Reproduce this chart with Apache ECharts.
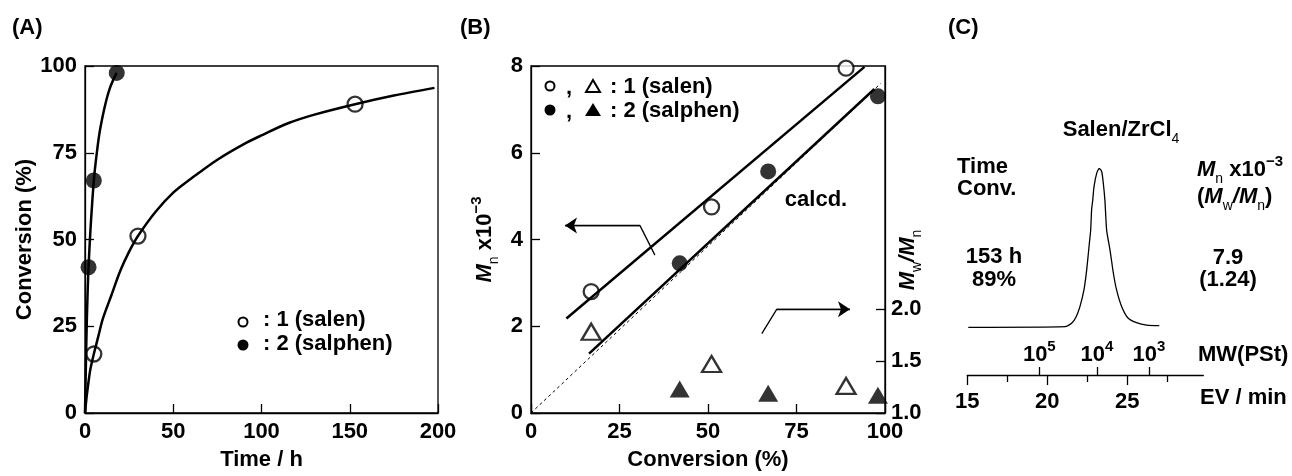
<!DOCTYPE html>
<html>
<head>
<meta charset="utf-8">
<script src="https://cdn.jsdelivr.net/npm/echarts@6/dist/echarts.min.js"></script>
<style>
  html, body { margin: 0; padding: 0; background: #fff; }
  #chart { width: 1292px; height: 476px; }
</style>
</head>
<body>
<div id="chart"></div>
<script>
// (A) conversion vs time
const timeSalen = [5, 30, 153];
const convSalen = [17, 51, 89];
const timeSalphen = [2, 5, 18];
const convSalphen = [42, 67, 98];
// fitted curves
const fitSalenT = [0, 1, 2, 3, 5, 7.5, 10, 15, 20, 25, 30, 40, 50, 60, 75, 90, 100, 115, 130, 153, 175, 198];
const fitSalenC = [0, 5, 9, 12.5, 17, 22, 27, 34, 41, 46.5, 51, 58, 63.5, 67.5, 73, 77.5, 80, 83.5, 86, 89, 91.5, 93.7];
const fitSalphenT = [0, 0.5, 1, 1.5, 2, 3, 4, 5, 6, 8, 10, 12, 14, 16, 18];
const fitSalphenC = [0, 14, 26, 35, 42, 52, 60, 67, 72, 80, 85.5, 90, 93.5, 96, 98];

// (B) Mn and Mw/Mn vs conversion
const convB1 = [17, 51, 89];
const mnB1 = [2.8, 4.75, 7.95];
const pdiB1 = [1.78, 1.47, 1.26];
const convB2 = [42, 67, 98];
const mnB2 = [3.45, 5.57, 7.3];
const pdiB2 = [1.23, 1.19, 1.17];
const lineB1X = [10, 94.2], lineB1Y = [2.18, 7.98];
const lineB2X = [16.4, 97], lineB2Y = [1.37, 7.47];
const calcdX = [0, 98.8], calcdY = [0, 7.6];
const arrowMnPath = [[35, 3.64], [30.8, 4.32], [9.6, 4.32]];
const arrowPdiPath = [[65.2, 1.83], [69.4, 2.39], [90.1, 2.39]];

// (C) GPC trace
const evTrace = [15.06, 21.11, 21.52, 21.79, 22.04, 22.29, 22.46, 22.63, 22.71, 22.77, 22.84, 22.92, 23.09, 23.25,
  23.4, 23.5, 23.6, 23.71, 23.92, 24.13, 24.33, 24.65, 25.06, 25.58, 26.21, 27.0];
const intTrace = [0, 0.004, 0.025, 0.063, 0.13, 0.235, 0.36, 0.53, 0.61, 0.74, 0.80, 0.885, 0.97, 1.0,
  0.98, 0.906, 0.80, 0.61, 0.486, 0.34, 0.235, 0.13, 0.057, 0.029, 0.014, 0.01];
const evMajor = [15, 20, 25];
const evMinor = [17.5, 22.5, 27.5];
const mwTickEV = [19.5, 23.1, 26.35];
const mwTickExp = ['5', '4', '3'];

const ff = "'Liberation Sans', Arial, sans-serif";
const zip = (a, b) => a.map((v, i) => [v, b[i]]);

const richSet = {
  b: { fontSize: 22, fontWeight: 'bold', fontFamily: ff, lineHeight: 32, color: '#000', fill: '#000' },
  i: { fontSize: 22, fontWeight: 'bold', fontStyle: 'italic', fontFamily: ff, lineHeight: 32, color: '#000', fill: '#000' },
  sub: { fontSize: 14, fontFamily: ff, lineHeight: 20, verticalAlign: 'bottom', color: '#000', fill: '#000' },
  sup: { fontSize: 15, fontWeight: 'bold', fontFamily: ff, lineHeight: 14, verticalAlign: 'top', color: '#000', fill: '#000' }
};

const line = { color: '#000', width: 1.3 };
const lbl = { color: '#000', fontSize: 22, fontWeight: 'bold', fontFamily: ff, margin: 8 };
const nameStyle = { color: '#000', fontSize: 22, fontWeight: 'bold', fontFamily: ff };

function frameAxis(extra) {
  return Object.assign({
    type: 'value',
    axisLine: { show: true, onZero: false, lineStyle: line },
    axisTick: { show: true, inside: true, length: 9, lineStyle: line },
    axisLabel: lbl,
    splitLine: { show: false },
    nameLocation: 'middle',
    nameTextStyle: nameStyle
  }, extra);
}

function txt(x, y, text, align, extra) {
  return {
    type: 'text', x: x, y: y, silent: true,
    style: Object.assign({
      text: text, fill: '#000', fontSize: 22, fontWeight: 'bold', fontFamily: ff,
      align: align || 'left', textAlign: align || 'left', verticalAlign: 'middle', textVerticalAlign: 'middle',
      rich: richSet
    }, extra || {})
  };
}

const openDot = { color: '#fff', borderColor: '#000', borderWidth: 2.3 };
const fullDot = { color: '#000' };

const chart = echarts.init(document.getElementById('chart'));
chart.setOption({
  animation: false,
  backgroundColor: '#fff',
  grid: [
    { left: 85, top: 66, width: 353, height: 353, show: true, borderColor: '#000', borderWidth: 1.3 },
    { left: 531, top: 66, width: 354, height: 353, show: true, borderColor: '#000', borderWidth: 1.3 },
    { left: 967.3, top: 168.3, width: 236, height: 206.7, show: false }
  ],
  xAxis: [
    frameAxis({ gridIndex: 0, min: 0, max: 200, interval: 50, name: 'Time / h', nameGap: 36 }),
    frameAxis({ gridIndex: 1, min: 0, max: 100, interval: 25, name: 'Conversion (%)', nameGap: 36 }),
    {
      type: 'value', gridIndex: 2, min: 15, max: 29.75, position: 'bottom',
      axisLine: { show: true, onZero: false, lineStyle: line },
      axisTick: { show: true, length: 10, lineStyle: line, customValues: evMajor },
      axisLabel: Object.assign({}, lbl, { margin: 16, customValues: evMajor }),
      splitLine: { show: false }
    },
    {
      type: 'value', gridIndex: 2, min: 15, max: 29.75, position: 'bottom',
      axisLine: { show: false, onZero: false },
      axisTick: { show: true, length: 7, lineStyle: line, customValues: evMinor },
      axisLabel: { show: false },
      splitLine: { show: false }
    },
    {
      type: 'value', gridIndex: 2, min: 15, max: 29.75, position: 'bottom',
      axisLine: { show: false, onZero: false },
      axisTick: { show: true, inside: true, length: 8, lineStyle: line, customValues: mwTickEV },
      axisLabel: {
        show: true, inside: true, margin: 4, customValues: mwTickEV,
        formatter: function (v) {
          const k = mwTickEV.indexOf(v);
          return k < 0 ? '' : '{b|10}{sup|' + mwTickExp[k] + '}';
        },
        rich: richSet
      },
      splitLine: { show: false }
    }
  ],
  yAxis: [
    frameAxis({ gridIndex: 0, min: 0, max: 100, interval: 25, name: 'Conversion (%)', nameGap: 47, nameRotate: 90 }),
    frameAxis({
      gridIndex: 1, min: 0, max: 8, interval: 2, nameGap: 30, nameRotate: 90,
      name: '{i|M}{sub|n}{b| x10}{sup|\u22123}',
      nameTextStyle: { rich: richSet }
    }),
    {
      type: 'value', gridIndex: 1, position: 'right', min: 1, max: 1 + 353 / 106,
      axisLine: { show: true, onZero: false, lineStyle: line },
      axisTick: { show: true, inside: true, length: 9, lineStyle: line, customValues: [1, 1.5, 2] },
      axisLabel: Object.assign({}, lbl, { margin: 6, customValues: [1, 1.5, 2], formatter: v => v.toFixed(1) }),
      splitLine: { show: false }
    },
    { type: 'value', gridIndex: 2, min: -0.3, max: 1, show: false }
  ],
  series: [
    // (A)
    { type: 'line', xAxisIndex: 0, yAxisIndex: 0, data: zip(fitSalenT, fitSalenC), smooth: 0.3,
      showSymbol: false, lineStyle: { color: '#000', width: 2.5 } },
    { type: 'line', xAxisIndex: 0, yAxisIndex: 0, data: zip(fitSalphenT, fitSalphenC), smooth: 0.3,
      showSymbol: false, lineStyle: { color: '#000', width: 2.5 } },
    { type: 'scatter', xAxisIndex: 0, yAxisIndex: 0, data: zip(timeSalen, convSalen), symbol: 'circle', symbolSize: 15,
      itemStyle: openDot },
    { type: 'scatter', xAxisIndex: 0, yAxisIndex: 0, data: zip(timeSalphen, convSalphen), symbol: 'circle', symbolSize: 16,
      itemStyle: fullDot },
    // (B)
    { type: 'line', xAxisIndex: 1, yAxisIndex: 1, data: zip(calcdX, calcdY), showSymbol: false,
      lineStyle: { color: '#000', width: 1, type: [3, 3] } },
    { type: 'line', xAxisIndex: 1, yAxisIndex: 1, data: zip(lineB1X, lineB1Y), showSymbol: false,
      lineStyle: { color: '#000', width: 2.5 } },
    { type: 'line', xAxisIndex: 1, yAxisIndex: 1, data: zip(lineB2X, lineB2Y), showSymbol: false,
      lineStyle: { color: '#000', width: 2.5 } },
    { type: 'line', xAxisIndex: 1, yAxisIndex: 1, data: arrowMnPath, showSymbol: false,
      lineStyle: { color: '#000', width: 1.3 },
      markLine: { silent: true, symbol: ['none', 'arrow'], symbolSize: 12, label: { show: false },
        lineStyle: { color: '#000', width: 1.3, type: 'solid' },
        data: [[{ coord: arrowMnPath[1] }, { coord: arrowMnPath[2] }]] } },
    { type: 'line', xAxisIndex: 1, yAxisIndex: 1, data: arrowPdiPath, showSymbol: false,
      lineStyle: { color: '#000', width: 1.3 },
      markLine: { silent: true, symbol: ['none', 'arrow'], symbolSize: 12, label: { show: false },
        lineStyle: { color: '#000', width: 1.3, type: 'solid' },
        data: [[{ coord: arrowPdiPath[1] }, { coord: arrowPdiPath[2] }]] } },
    { type: 'scatter', xAxisIndex: 1, yAxisIndex: 1, data: zip(convB1, mnB1), symbol: 'circle', symbolSize: 15,
      itemStyle: openDot },
    { type: 'scatter', xAxisIndex: 1, yAxisIndex: 1, data: zip(convB2, mnB2), symbol: 'circle', symbolSize: 16,
      itemStyle: fullDot },
    { type: 'scatter', xAxisIndex: 1, yAxisIndex: 2, data: zip(convB1, pdiB1), symbol: 'triangle', symbolSize: [19, 16],
      itemStyle: openDot },
    { type: 'scatter', xAxisIndex: 1, yAxisIndex: 2, data: zip(convB2, pdiB2), symbol: 'triangle', symbolSize: [20, 17],
      itemStyle: fullDot },
    // (C)
    { type: 'line', xAxisIndex: 2, yAxisIndex: 3, data: zip(evTrace, intTrace), smooth: 0.2, showSymbol: false,
      lineStyle: { color: '#000', width: 1.3 } }
  ],
  graphic: [
    txt(12, 28, '(A)'),
    txt(460, 28, '(B)'),
    txt(948, 28, '(C)'),
    // legend A
    { type: 'circle', shape: { cx: 243, cy: 322, r: 4.5 }, style: { fill: '#fff', stroke: '#000', lineWidth: 2 }, silent: true },
    { type: 'circle', shape: { cx: 243, cy: 345, r: 5.5 }, style: { fill: '#000' }, silent: true },
    txt(263, 320, ': 1 (salen)'),
    txt(263, 344, ': 2 (salphen)'),
    // legend B
    { type: 'circle', shape: { cx: 550, cy: 86, r: 4.5 }, style: { fill: '#fff', stroke: '#000', lineWidth: 2 }, silent: true },
    { type: 'circle', shape: { cx: 550, cy: 110, r: 5.5 }, style: { fill: '#000' }, silent: true },
    txt(566, 88, ','),
    txt(566, 112, ','),
    { type: 'polygon', shape: { points: [[593, 80], [600, 92], [586, 92]] }, style: { fill: '#fff', stroke: '#000', lineWidth: 2 }, silent: true },
    { type: 'polygon', shape: { points: [[593, 103], [601, 116], [585, 116]] }, style: { fill: '#000' }, silent: true },
    txt(610, 87, ': 1 (salen)'),
    txt(610, 111, ': 2 (salphen)'),
    txt(816, 200, 'calcd.', 'center'),
    { type: 'text', x: 908, y: 260, rotation: Math.PI / 2, silent: true,
      style: { text: '{i|M}{sub|w}{i|/M}{sub|n}', rich: richSet, align: 'center', textAlign: 'center',
        verticalAlign: 'middle', textVerticalAlign: 'middle' } },
    // panel C text
    txt(1121, 130, '{b|Salen/ZrCl}{sub|4}', 'center'),
    txt(957, 167, 'Time'),
    txt(957, 189, 'Conv.'),
    txt(1197, 170, '{i|M}{sub|n}{b| x10}{sup|\u22123}'),
    txt(1197, 197, '{b|(}{i|M}{sub|w}{i|/M}{sub|n}{b|)}'),
    txt(994, 257, '153 h', 'center'),
    txt(994, 280, '89%', 'center'),
    txt(1228, 258, '7.9', 'center'),
    txt(1228, 280, '(1.24)', 'center'),
    txt(1198, 355, 'MW(PSt)'),
    txt(1200, 398, 'EV / min')
  ]
});
</script>
</body>
</html>
